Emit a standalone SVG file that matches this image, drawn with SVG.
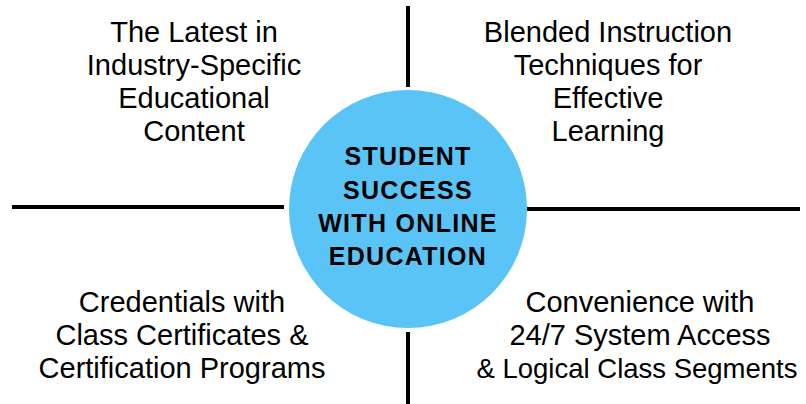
<svg xmlns="http://www.w3.org/2000/svg" width="806" height="404" viewBox="0 0 806 404">
<style>
.t{font-family:"Liberation Sans",Arial,sans-serif;font-size:29px;fill:#000;text-anchor:middle}
.c{font-family:"Liberation Sans",Arial,sans-serif;font-size:25px;font-weight:bold;fill:#000;text-anchor:middle;letter-spacing:1.3px}
.ln{stroke:#000;stroke-width:4;fill:none}
</style>
<rect width="806" height="404" fill="#fff"/>
<g id="connectors">
<line class="ln" x1="408" y1="6" x2="408" y2="87"/>
<line class="ln" x1="408" y1="332" x2="408" y2="404"/>
<line class="ln" x1="12" y1="207" x2="284" y2="207"/>
<line class="ln" x1="527" y1="209" x2="800" y2="209"/>
</g>
<g id="center">
<circle cx="408" cy="209" r="119" fill="#5AC4F6"/>
<text class="c" x="408" y="165">STUDENT</text>
<text class="c" x="408" y="199">SUCCESS</text>
<text class="c" x="408" y="232">WITH ONLINE</text>
<text class="c" x="408" y="265">EDUCATION</text>
</g>
<g id="top-left">
<text class="t" x="194" y="42">The Latest in</text>
<text class="t" x="194" y="75">Industry-Specific</text>
<text class="t" x="194" y="108">Educational</text>
<text class="t" x="194" y="141">Content</text>
</g>
<g id="top-right">
<text class="t" x="608" y="42">Blended Instruction</text>
<text class="t" x="608" y="75">Techniques for</text>
<text class="t" x="608" y="108">Effective</text>
<text class="t" x="608" y="141">Learning</text>
</g>
<g id="bottom-left">
<text class="t" x="182" y="312">Credentials with</text>
<text class="t" x="182" y="345">Class Certificates &amp;</text>
<text class="t" x="182" y="378">Certification Programs</text>
</g>
<g id="bottom-right">
<text class="t" x="640" y="312">Convenience with</text>
<text class="t" x="640" y="345">24/7 System Access</text>
<text class="t" x="637" y="378" style="font-size:27.5px">&amp; Logical Class Segments</text>
</g>
</svg>
